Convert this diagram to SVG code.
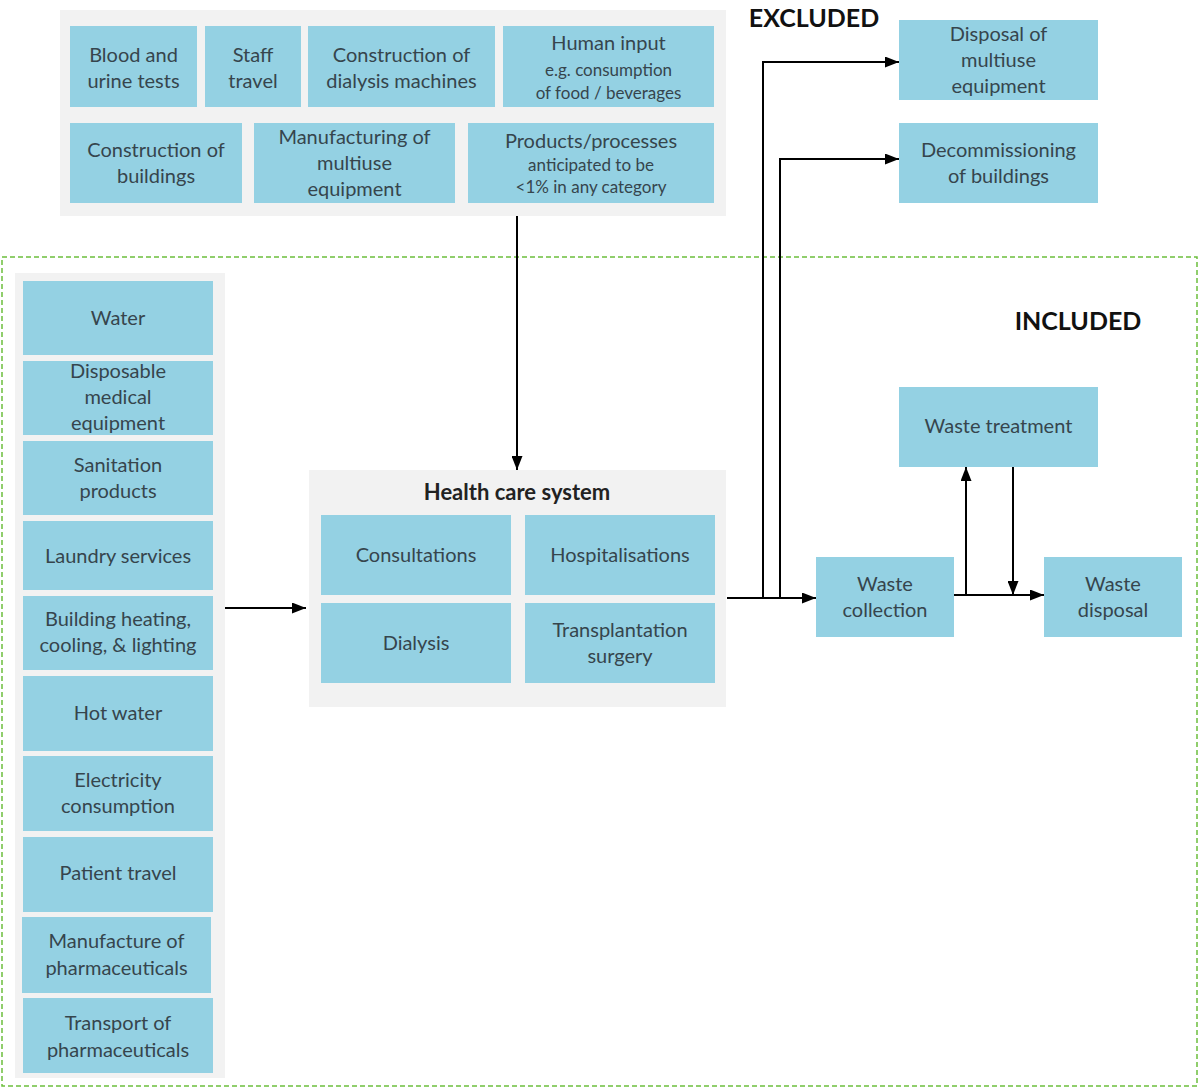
<svg xmlns="http://www.w3.org/2000/svg" width="1200" height="1088" viewBox="0 0 1200 1088">
<style>
.grp{fill:#f2f2f2}
.box{fill:#94d1e3}
.t{font-family:Lato,"Open Sans","DejaVu Sans",sans-serif;font-size:20px;fill:#36454d;text-anchor:middle}
.s{font-size:17px}
.b{font-weight:bold;fill:#222}
.hdr{font-family:Lato,"Open Sans","DejaVu Sans",sans-serif;font-size:25px;font-weight:bold;fill:#111;text-anchor:middle}
.ln{fill:none;stroke:#000;stroke-width:2}
</style>
<defs>
<marker id="ah" markerWidth="14" markerHeight="11" refX="14" refY="5.5" orient="auto" markerUnits="userSpaceOnUse">
<path d="M0,0 L14,5.5 L0,11 z" fill="#000"/>
</marker>
</defs>
<rect width="1200" height="1088" fill="#fff"/>

<g id="boundary-included">
<rect x="2" y="257" width="1195" height="829" fill="none" stroke="#6cbf3c" stroke-width="1.5" stroke-dasharray="5,3"/>
</g>

<g id="label-excluded"><text class="hdr" x="814" y="27">EXCLUDED</text></g>
<g id="label-included"><text class="hdr" x="1078" y="330">INCLUDED</text></g>

<g id="excluded-inputs">
<rect class="grp" x="60" y="10" width="666" height="206"/>
<g id="blood-urine"><rect class="box" x="70" y="26" width="127" height="81"/><text class="t" x="133.5" y="62">Blood and</text><text class="t" x="133.5" y="88">urine tests</text></g>
<g id="staff-travel"><rect class="box" x="205" y="26" width="96" height="81"/><text class="t" x="253" y="62">Staff</text><text class="t" x="253" y="88">travel</text></g>
<g id="construction-dialysis"><rect class="box" x="308" y="26" width="187" height="81"/><text class="t" x="401.5" y="62">Construction of</text><text class="t" x="401.5" y="88">dialysis machines</text></g>
<g id="human-input"><rect class="box" x="503" y="26" width="211" height="81"/><text class="t" x="608.5" y="50">Human input</text><text class="t s" x="608.5" y="76">e.g. consumption</text><text class="t s" x="608.5" y="99">of food / beverages</text></g>
<g id="construction-buildings"><rect class="box" x="70" y="123" width="172" height="80"/><text class="t" x="156" y="157">Construction of</text><text class="t" x="156" y="183">buildings</text></g>
<g id="manufacturing-multiuse"><rect class="box" x="254" y="123" width="201" height="80"/><text class="t" x="354.5" y="144">Manufacturing of</text><text class="t" x="354.5" y="170">multiuse</text><text class="t" x="354.5" y="196">equipment</text></g>
<g id="products-processes"><rect class="box" x="468" y="123" width="246" height="80"/><text class="t" x="591" y="148">Products/processes</text><text class="t s" x="591" y="171">anticipated to be</text><text class="t s" x="591" y="193">&lt;1% in any category</text></g>
</g>

<g id="disposal-multiuse"><rect class="box" x="899" y="20" width="199" height="80"/><text class="t" x="998.5" y="41">Disposal of</text><text class="t" x="998.5" y="67">multiuse</text><text class="t" x="998.5" y="93">equipment</text></g>
<g id="decommissioning"><rect class="box" x="899" y="123" width="199" height="80"/><text class="t" x="998.5" y="157">Decommissioning</text><text class="t" x="998.5" y="183">of buildings</text></g>

<g id="included-inputs">
<rect class="grp" x="15" y="273" width="210" height="805"/>
<g id="water"><rect class="box" x="23" y="281" width="190" height="74"/><text class="t" x="118" y="325">Water</text></g>
<g id="disposable"><rect class="box" x="23" y="361" width="190" height="74"/><text class="t" x="118" y="378">Disposable</text><text class="t" x="118" y="404">medical</text><text class="t" x="118" y="430">equipment</text></g>
<g id="sanitation"><rect class="box" x="23" y="441" width="190" height="74"/><text class="t" x="118" y="472">Sanitation</text><text class="t" x="118" y="498">products</text></g>
<g id="laundry"><rect class="box" x="23" y="521" width="190" height="69"/><text class="t" x="118" y="563">Laundry services</text></g>
<g id="building-heating"><rect class="box" x="23" y="596" width="190" height="74"/><text class="t" x="118" y="626">Building heating,</text><text class="t" x="118" y="652">cooling, &amp; lighting</text></g>
<g id="hot-water"><rect class="box" x="23" y="676" width="190" height="75"/><text class="t" x="118" y="720">Hot water</text></g>
<g id="electricity"><rect class="box" x="23" y="756" width="190" height="75"/><text class="t" x="118" y="787">Electricity</text><text class="t" x="118" y="813">consumption</text></g>
<g id="patient-travel"><rect class="box" x="23" y="837" width="190" height="75"/><text class="t" x="118" y="880">Patient travel</text></g>
<g id="manufacture-pharma"><rect class="box" x="22" y="917" width="189" height="76"/><text class="t" x="116.5" y="948">Manufacture of</text><text class="t" x="116.5" y="975">pharmaceuticals</text></g>
<g id="transport-pharma"><rect class="box" x="23" y="998" width="190" height="75"/><text class="t" x="118" y="1030">Transport of</text><text class="t" x="118" y="1057">pharmaceuticals</text></g>
</g>

<g id="health-care-system">
<rect class="grp" x="309" y="470" width="417" height="237"/>
<text class="t b" x="517" y="500" style="font-size:22px">Health care system</text>
<g id="consultations"><rect class="box" x="321" y="515" width="190" height="80"/><text class="t" x="416" y="562">Consultations</text></g>
<g id="hospitalisations"><rect class="box" x="525" y="515" width="190" height="80"/><text class="t" x="620" y="562">Hospitalisations</text></g>
<g id="dialysis"><rect class="box" x="321" y="603" width="190" height="80"/><text class="t" x="416" y="650">Dialysis</text></g>
<g id="transplantation"><rect class="box" x="525" y="603" width="190" height="80"/><text class="t" x="620" y="637">Transplantation</text><text class="t" x="620" y="663">surgery</text></g>
</g>

<g id="waste-treatment"><rect class="box" x="899" y="387" width="199" height="80"/><text class="t" x="998.5" y="433">Waste treatment</text></g>
<g id="waste-collection"><rect class="box" x="816" y="557" width="138" height="80"/><text class="t" x="885" y="591">Waste</text><text class="t" x="885" y="617">collection</text></g>
<g id="waste-disposal"><rect class="box" x="1044" y="557" width="138" height="80"/><text class="t" x="1113" y="591">Waste</text><text class="t" x="1113" y="617">disposal</text></g>

<g id="connectors">
<path class="ln" d="M517,216 V470" marker-end="url(#ah)"/>
<path class="ln" d="M225,608 H306" marker-end="url(#ah)"/>
<path class="ln" d="M727,598 H816" marker-end="url(#ah)"/>
<path class="ln" d="M763,598 V62 H899" marker-end="url(#ah)"/>
<path class="ln" d="M780,598 V159 H899" marker-end="url(#ah)"/>
<path class="ln" d="M954,595 H1044" marker-end="url(#ah)"/>
<path class="ln" d="M966,595 V467" marker-end="url(#ah)"/>
<path class="ln" d="M1013,467 V595" marker-end="url(#ah)"/>
</g>
</svg>
